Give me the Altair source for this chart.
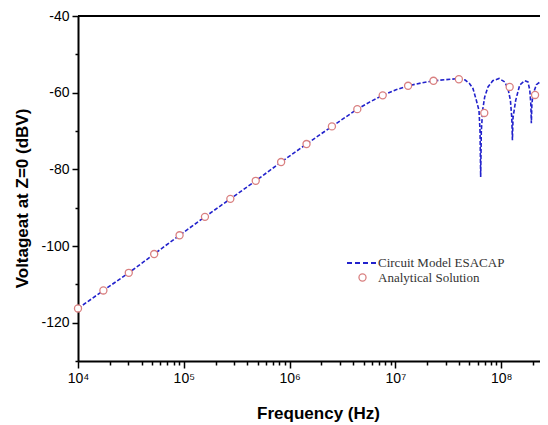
import altair as alt
import pandas as pd

# ---- data ----
# dashed curve: log10(frequency in Hz) and level in dBV
line_exp = [4.00, 4.24, 4.48, 4.72, 4.96, 5.20, 5.44, 5.68, 5.92, 6.16, 6.40, 6.64,
            6.76, 6.88, 7.00, 7.12, 7.24, 7.36, 7.48, 7.60, 7.66, 7.70, 7.733, 7.765,
            7.79, 7.80, 7.806, 7.812, 7.825, 7.844, 7.875, 7.92, 7.98, 8.033, 8.064,
            8.087, 8.10, 8.106, 8.112, 8.137, 8.175, 8.222, 8.253, 8.27, 8.28, 8.285,
            8.29, 8.30, 8.333, 8.364, 8.395, 8.415, 8.421, 8.427, 8.44]
line_db = [-116.3, -111.6, -107.0, -102.1, -97.2, -92.4, -87.7, -83.0, -78.1, -73.4, -68.8, -64.3,
           -62.4, -60.7, -59.3, -58.2, -57.5, -56.9, -56.6, -56.3, -56.7, -57.6, -58.9, -62.0,
           -64.6, -70.0, -82.0, -70.0, -64.5, -61.1, -58.5, -56.9, -56.3, -57.2, -58.9,
           -62.0, -66.5, -72.4, -66.5, -62.0, -58.0, -56.9, -57.2, -59.3, -63.0, -68.0,
           -63.0, -60.5, -57.9, -57.2, -58.9, -61.5, -63.7, -61.5, -59.5]

# analytical solution circles
circ_exp = [4.00, 4.24, 4.48, 4.72, 4.96, 5.20, 5.44, 5.68, 5.92, 6.16, 6.40, 6.64,
            6.88, 7.12, 7.36, 7.60, 7.84, 8.08, 8.32]
circ_db = [-116.3, -111.6, -107.0, -102.1, -97.2, -92.4, -87.7, -83.0, -78.1, -73.4, -68.8, -64.3,
           -60.7, -58.2, -56.9, -56.5, -65.3, -58.5, -60.6]

series_names = ["Circuit Model ESACAP", "Analytical Solution"]
decades = [10000, 100000, 1000000, 10000000, 100000000]
y_major = [-40, -60, -80, -100, -120]
y_tick_values = [-130, -120, -110, -100, -90, -80, -70, -60, -50, -40]

W, H = 462, 345
x_max = 10 ** (4 + W / 105.8)
x_tick_values = [m * d for d in decades for m in range(1, 10) if m * d <= x_max]

line_df = pd.DataFrame({"freq": [10 ** e for e in line_exp], "db": line_db,
                        "series": series_names[0]})
circ_df = pd.DataFrame({"freq": [10 ** e for e in circ_exp], "db": circ_db,
                        "series": series_names[1]})

FONT = "Liberation Sans"
LINE_COLOR = "#2222cc"
CIRC_COLOR = "#d98080"

xscale = alt.Scale(type="log", domain=[10000, x_max], nice=False)
yscale = alt.Scale(domain=[-130, -40], nice=False)

dec_test = "indexof([10000,100000,1000000,10000000,100000000], datum.value) >= 0"
ymaj_test = "indexof([-40,-60,-80,-100,-120], datum.value) >= 0"
sup = "['\u2070','\u00b9','\u00b2','\u00b3','\u2074','\u2075','\u2076','\u2077','\u2078','\u2079']"

x_axis = alt.Axis(
    values=x_tick_values,
    labelExpr=f"{dec_test} ? '10' + {sup}[round(log(datum.value)/LN10)] : ''",
    tickSize={"condition": {"test": dec_test, "value": 7}, "value": 4},
    grid=False, domainColor="black", domainWidth=2, tickColor="black", tickWidth=1.5,
    labelFont=FONT, labelFontSize=14, labelColor="black", labelPadding=3,
    labelOverlap=False, labelFlush=False,
    title="Frequency (Hz)", titleFont=FONT, titleFontSize=17, titleFontWeight="bold",
    titleColor="black", titlePadding=20, titleX=240,
)
y_axis = alt.Axis(
    values=y_tick_values,
    labelExpr=f"{ymaj_test} ? '' + datum.value : ''",
    tickSize={"condition": {"test": ymaj_test, "value": 6}, "value": 3},
    grid=False, domainColor="black", domainWidth=2, tickColor="black", tickWidth=1.5,
    labelFont=FONT, labelFontSize=14, labelColor="black", labelPadding=3,
    labelOverlap=False,
    title="Voltageat at Z=0 (dBV)", titleFont=FONT, titleFontSize=17, titleFontWeight="bold",
    titleColor="black", titlePadding=9, titleY=182,
)

top_border = alt.Chart(line_df).mark_rule(color="black", strokeWidth=2).encode(
    x=alt.value(0), x2=alt.value(W), y=alt.value(0)
)

line = alt.Chart(line_df).mark_line(
    clip=True, strokeDash=[4, 2], strokeWidth=1.6
).encode(
    x=alt.X("freq:Q", scale=xscale, axis=x_axis),
    y=alt.Y("db:Q", scale=yscale, axis=y_axis),
    color=alt.Color("series:N",
                    scale=alt.Scale(domain=[series_names[0]], range=[LINE_COLOR]),
                    legend=alt.Legend(orient="none", legendX=268, legendY=231, title=None,
                                      padding=0, symbolType="stroke", symbolDash=[5, 3],
                                      symbolStrokeWidth=2, symbolSize=900,
                                      labelFont="Liberation Serif", labelFontSize=13,
                                      labelColor="#333333", labelOffset=0)),
    order=alt.Order("freq:Q"),
)

points = alt.Chart(circ_df).mark_point(
    clip=False, shape="circle", filled=False, fill="white", strokeWidth=1.3, size=50, opacity=1
).encode(
    x=alt.X("freq:Q", scale=xscale),
    y=alt.Y("db:Q", scale=yscale, axis=y_axis),
    stroke=alt.Stroke("series:N",
                      scale=alt.Scale(domain=[series_names[1]], range=[CIRC_COLOR]),
                      legend=alt.Legend(orient="none", legendX=278, legendY=255, title=None,
                                        padding=0, symbolType="circle", symbolSize=50,
                                        symbolStrokeWidth=1.3, symbolFillColor="white",
                                        labelFont="Liberation Serif", labelFontSize=13,
                                        labelColor="#333333", labelOffset=9)),
)

chart = alt.layer(top_border, line, points).properties(
    width=W, height=H,
    autosize=alt.AutoSizeParams(type="none"),
    padding={"left": 70, "top": 8, "right": 0, "bottom": 66},
    background="white",
).configure_view(stroke=None)

chart.save("out.html", embed_options={"renderer": "svg", "actions": False})
